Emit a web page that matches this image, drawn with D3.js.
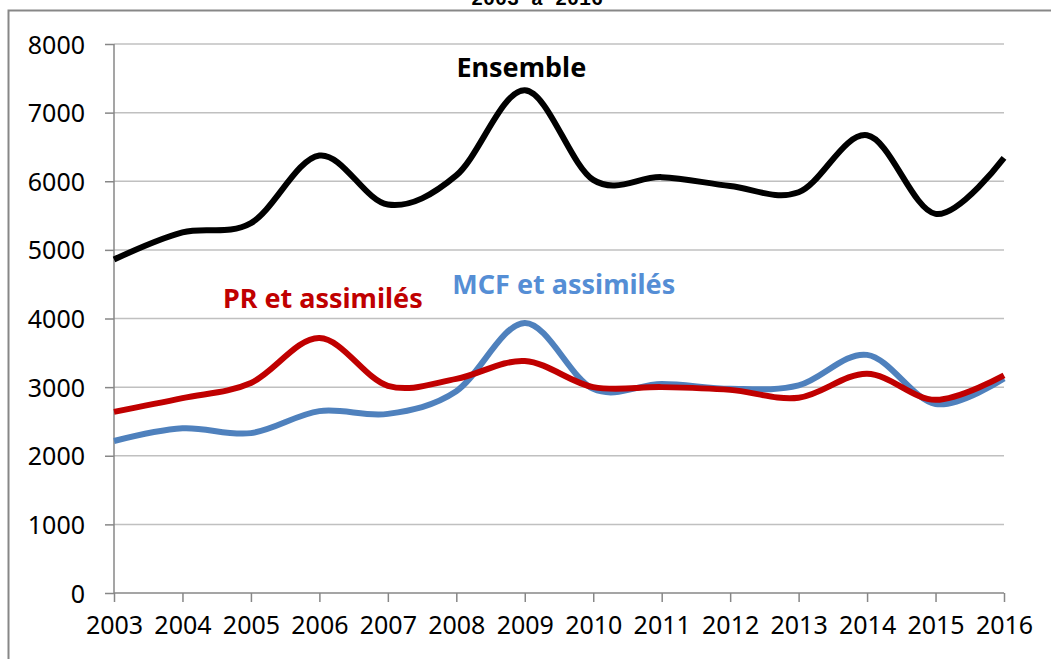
<!DOCTYPE html>
<html>
<head>
<meta charset="utf-8">
<script src="https://cdn.jsdelivr.net/npm/d3@7"></script>
<style>
  body { margin: 0; background: #fff; }
  svg { display: block; }
</style>
</head>
<body>
<svg id="chart"></svg>
<script>
const years = [2003, 2004, 2005, 2006, 2007, 2008, 2009, 2010, 2011, 2012, 2013, 2014, 2015, 2016];
const ensemble = [4860, 5255, 5390, 6375, 5660, 6085, 7325, 6020, 6060, 5930, 5840, 6670, 5525, 6340];
const pr = [2640, 2840, 3060, 3715, 3020, 3120, 3380, 3000, 3000, 2960, 2845, 3195, 2815, 3170];
const mcf = [2215, 2400, 2330, 2650, 2610, 2940, 3935, 2975, 3045, 2975, 3025, 3470, 2755, 3125];
const yTicks = [0, 1000, 2000, 3000, 4000, 5000, 6000, 7000, 8000];

const width = 1051, height = 659;
const margin = { top: 44, right: 47, bottom: 66, left: 114 };
const font = "'Noto Sans', 'Open Sans', sans-serif";

const svg = d3.select("#chart").attr("width", width).attr("height", height);

const x = d3.scaleLinear()
    .domain([years[0], years[years.length - 1]])
    .range([margin.left, width - margin.right]);

const y = d3.scaleLinear()
    .domain([0, 8000])
    .range([height - margin.bottom, margin.top]);

// outer chart frame (partly off screen)
svg.append("path")
    .attr("d", `M8.5,${height + 5}V10.5H${width + 5}`)
    .attr("fill", "none")
    .attr("stroke", "#878787")
    .attr("stroke-width", 2);

// title, mostly cut off at the top as in the source picture
svg.append("text")
    .attr("x", 537).attr("y", 5)
    .attr("text-anchor", "middle")
    .attr("font-family", "'Liberation Mono', monospace")
    .attr("font-weight", "bold")
    .attr("font-size", 20)
    .text("2003 à 2016");

// gridlines
svg.append("g")
    .selectAll("line")
    .data(yTicks.slice(1))
    .join("line")
    .attr("x1", margin.left).attr("x2", width - margin.right)
    .attr("y1", d => y(d)).attr("y2", d => y(d))
    .attr("stroke", "#c0c0c0")
    .attr("stroke-width", 1.5);

const yAxis = g => {
    g.attr("transform", `translate(${margin.left},0)`)
        .call(d3.axisLeft(y).tickValues(yTicks).tickSize(9).tickPadding(20).tickFormat(d3.format("d")))
        .call(g => g.select(".domain").attr("stroke", "#878787").attr("stroke-width", 1.5)
            .attr("d", `M0,${y(0)}V${y(8000)}`))
        .call(g => g.selectAll(".tick line").attr("stroke", "#878787").attr("stroke-width", 1.5))
        .call(g => g.selectAll(".tick text").attr("font-family", font).attr("font-size", 25)
            .attr("fill", "#000").attr("dy", "0.36em"));
};

const xAxis = g => {
    g.attr("transform", `translate(0,${y(0)})`)
        .call(d3.axisBottom(x).tickValues(years).tickSize(9).tickPadding(14).tickFormat(d3.format("d")))
        .call(g => g.select(".domain").attr("stroke", "#878787").attr("stroke-width", 1.5)
            .attr("d", `M${x(years[0])},0H${x(years[years.length - 1])}`))
        .call(g => g.selectAll(".tick line").attr("stroke", "#878787").attr("stroke-width", 1.5))
        .call(g => g.selectAll(".tick text").attr("font-family", font).attr("font-size", 25)
            .attr("fill", "#000"));
};

svg.append("g").call(yAxis);
svg.append("g").call(xAxis);

const line = d3.line()
    .x((d, i) => x(years[i]))
    .y(d => y(d))
    .curve(d3.curveCardinal.tension(0));

const series = [
    { values: mcf, color: "#4f81bd" },
    { values: pr, color: "#c00000" },
    { values: ensemble, color: "#000000" }
];

svg.append("g")
    .attr("fill", "none")
    .attr("stroke-width", 6)
    .attr("stroke-linejoin", "round")
    .selectAll("path")
    .data(series)
    .join("path")
    .attr("stroke", d => d.color)
    .attr("d", d => line(d.values));

// series labels
const labels = [
    { text: "Ensemble", year: 2008.95, value: 7515, color: "#000000" },
    { text: "PR et assimilés", year: 2006.05, value: 4150, color: "#c00000" },
    { text: "MCF et assimilés", year: 2009.57, value: 4355, color: "#558ed5" }
];

svg.append("g")
    .selectAll("text")
    .data(labels)
    .join("text")
    .attr("x", d => x(d.year))
    .attr("y", d => y(d.value))
    .attr("text-anchor", "middle")
    .attr("font-family", font)
    .attr("font-weight", "bold")
    .attr("font-size", 27)
    .attr("fill", d => d.color)
    .text(d => d.text);
</script>
</body>
</html>
